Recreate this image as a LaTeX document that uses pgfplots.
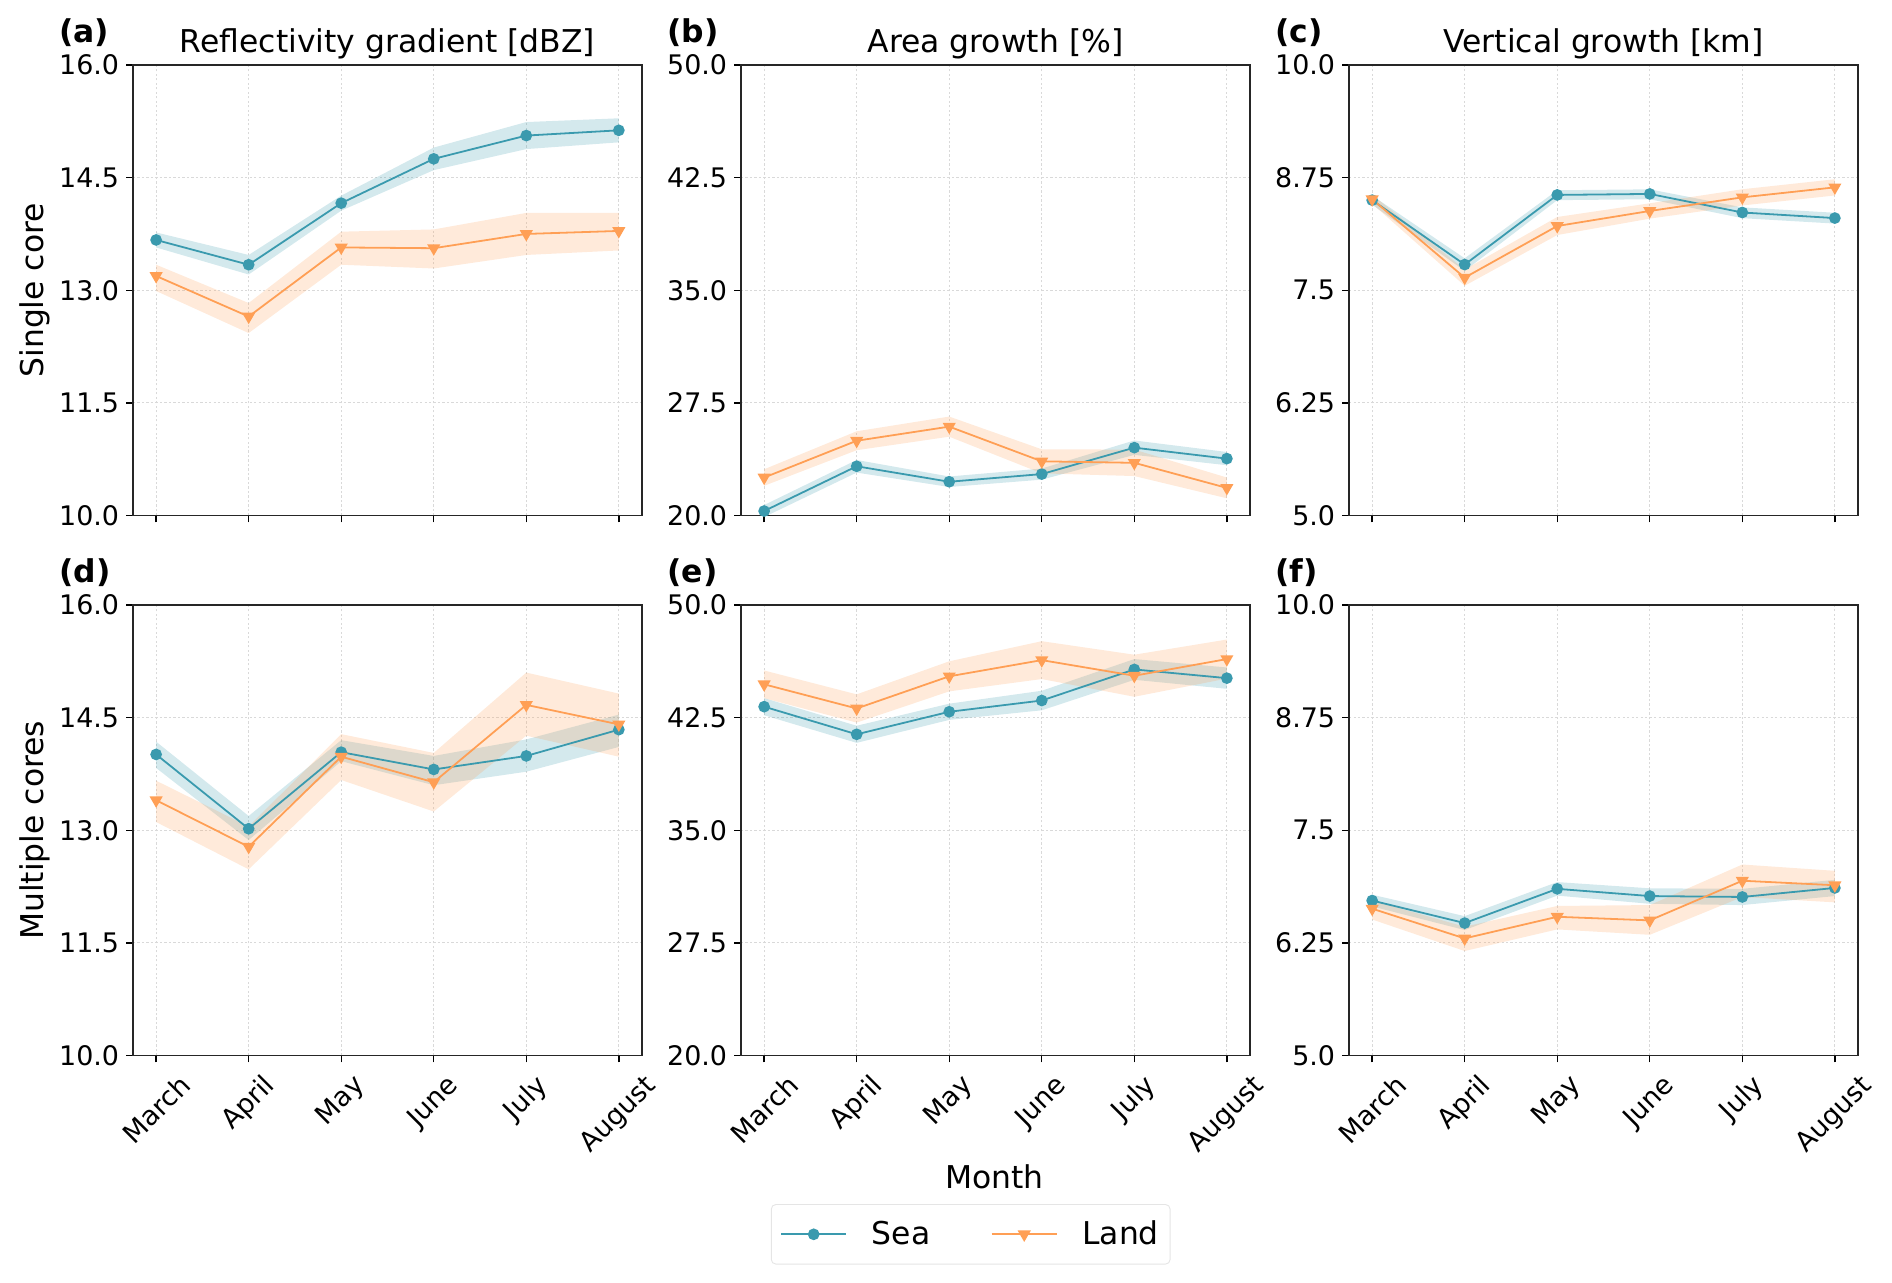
\documentclass[border=0pt]{standalone}
\usepackage{fontspec}
\setmainfont{DejaVu Sans}
\usepackage{graphicx}
\usepackage{pgfplots}
\usepgfplotslibrary{fillbetween}
\pgfplotsset{compat=1.18}
\usepackage{pgfplotstable}

\definecolor{sea}{RGB}{58,154,174}
\definecolor{land}{RGB}{255,159,85}
\newcommand\labelsize{\fontsize{14}{16}\selectfont}
\newcommand\ticksize{\fontsize{12}{14}\selectfont}

% columns: x, sea mean, sea low, sea high, land mean, land low, land high
\pgfplotstableread{
x sm slo shi lm llo lhi
0 13.67 13.57 13.77 13.19 12.99 13.34
1 13.34 13.21 13.47 12.65 12.43 12.83
2 14.16 14.06 14.26 13.57 13.34 13.78
3 14.75 14.60 14.90 13.56 13.29 13.81
4 15.06 14.88 15.24 13.75 13.47 14.03
5 15.13 14.97 15.29 13.79 13.53 14.03
}\tabA
\pgfplotstableread{
x sm slo shi lm llo lhi
0 20.30 19.90 20.70 22.53 21.98 23.08
1 23.28 22.86 23.70 24.98 24.35 25.61
2 22.25 21.90 22.60 25.92 25.25 26.59
3 22.76 22.39 23.13 23.61 22.81 24.41
4 24.52 24.04 25.00 23.51 22.63 24.39
5 23.79 23.35 24.23 21.84 21.15 22.53
}\tabB
\pgfplotstableread{
x sm slo shi lm llo lhi
0 8.500 8.450 8.550 8.510 8.460 8.560
1 7.785 7.715 7.855 7.640 7.550 7.730
2 8.558 8.500 8.610 8.213 8.113 8.313
3 8.569 8.510 8.620 8.380 8.295 8.465
4 8.363 8.300 8.420 8.531 8.441 8.621
5 8.301 8.240 8.360 8.642 8.552 8.732
}\tabC
\pgfplotstableread{
x sm slo shi lm llo lhi
0 14.01 13.83 14.18 13.40 13.11 13.66
1 13.02 12.87 13.19 12.78 12.48 13.05
2 14.04 13.92 14.20 13.98 13.67 14.28
3 13.81 13.60 13.99 13.64 13.25 14.03
4 13.99 13.78 14.21 14.67 14.26 15.10
5 14.34 14.11 14.54 14.41 13.98 14.82
}\tabD
\pgfplotstableread{
x sm slo shi lm llo lhi
0 43.23 42.66 43.80 44.72 43.80 45.64
1 41.39 40.82 41.96 43.11 42.17 44.05
2 42.89 42.35 43.43 45.25 44.25 46.25
3 43.64 42.99 44.29 46.33 45.07 47.59
4 45.71 45.02 46.40 45.29 43.89 46.69
5 45.13 44.42 45.84 46.40 45.10 47.70
}\tabE
\pgfplotstableread{
x sm slo shi lm llo lhi
0 6.720 6.655 6.785 6.630 6.510 6.720
1 6.470 6.393 6.547 6.300 6.160 6.430
2 6.850 6.775 6.925 6.540 6.400 6.660
3 6.770 6.684 6.856 6.500 6.340 6.670
4 6.760 6.670 6.850 6.940 6.760 7.120
5 6.860 6.770 6.950 6.890 6.700 7.050
}\tabF

\pgfplotsset{
  panel/.style={
    scale only axis, width=226.96pt, height=200.9pt,
    xmin=-0.25, xmax=5.25, xtick={0,...,5},
    tick align=outside, tick pos=left,
    major tick length=3pt,
    tick style={black, line width=0.6pt},
    grid=major,
    grid style={gray!30, line width=0.4pt, dash pattern=on 1pt off 1pt},
    axis line style={line width=0.8pt, black!85},
    ticklabel style={font=\ticksize},
    yticklabel style={anchor=east, inner sep=0pt, xshift=-3pt},
    xticklabel style={anchor=north, inner sep=0pt, yshift=-4.5pt},
  },
  toprow/.style={xticklabel={\mbox{}}},
  botrow/.style={xticklabels={\rotatebox{45}{March},\rotatebox{45}{April},\rotatebox{45}{May},\rotatebox{45}{June},\rotatebox{45}{July},\rotatebox{45}{August}}},
  refl/.style={ymin=10, ymax=16, ytick={10,11.5,13,14.5,16}, yticklabels={10.0,11.5,13.0,14.5,16.0}},
  area/.style={ymin=20, ymax=50, ytick={20,27.5,35,42.5,50}, yticklabels={20.0,27.5,35.0,42.5,50.0}},
  vert/.style={ymin=5, ymax=10, ytick={5,6.25,7.5,8.75,10}, yticklabels={5.0,6.25,7.5,8.75,10.0}},
  sealine/.style={sea, line width=0.8pt, mark=*, mark size=2.2pt, mark options={solid, fill=sea, draw=sea}},
  landline/.style={land, line width=0.8pt, mark=triangle*, mark size=2.6pt, mark options={solid, rotate=180, fill=land, draw=land}},
}

\newcommand{\series}[1]{%
  \addplot[name path=shi, draw=none, forget plot] table[x=x, y=shi]{#1};
  \addplot[name path=slo, draw=none, forget plot] table[x=x, y=slo]{#1};
  \addplot[fill=sea, fill opacity=0.22, draw=none, forget plot] fill between[of=shi and slo];
  \addplot[sealine] table[x=x, y=sm]{#1};
  \addplot[name path=lhi, draw=none, forget plot] table[x=x, y=lhi]{#1};
  \addplot[name path=llo, draw=none, forget plot] table[x=x, y=llo]{#1};
  \addplot[fill=land, fill opacity=0.22, draw=none, forget plot] fill between[of=lhi and llo];
  \addplot[landline] table[x=x, y=lm]{#1};
}

\begin{document}
\begin{tikzpicture}
\path (0,0) rectangle (843.64pt,-572.09pt);

\begin{axis}[panel, toprow, refl, name=p1, at={(59.30pt,-28.98pt)}, anchor=north west]
\series{\tabA}
\end{axis}
\begin{axis}[panel, toprow, area, name=p2, at={(330.41pt,-28.98pt)}, anchor=north west]
\series{\tabB}
\end{axis}
\begin{axis}[panel, toprow, vert, name=p3, at={(601.52pt,-28.98pt)}, anchor=north west]
\series{\tabC}
\end{axis}
\begin{axis}[panel, botrow, refl, name=p4, at={(59.30pt,-269.77pt)}, anchor=north west]
\series{\tabD}
\end{axis}
\begin{axis}[panel, botrow, area, name=p5, at={(330.41pt,-269.77pt)}, anchor=north west,
  legend columns=2,
  legend image code/.code={\draw[mark repeat=2,mark phase=2] plot coordinates {(0pt,0pt) (14.5pt,0pt) (29pt,0pt)};},
  legend style={at={(0.4513,-0.3297)}, anchor=north, draw=gray!20, rounded corners=2pt,
    font=\labelsize, inner xsep=4pt, inner ysep=6.2pt,
    column sep=10pt, /tikz/every even column/.append style={column sep=26pt},
    nodes={inner sep=1pt}}]
\series{\tabE}
\addlegendentry{Sea}
\addlegendentry{Land}
\end{axis}
\begin{axis}[panel, botrow, vert, name=p6, at={(601.52pt,-269.77pt)}, anchor=north west]
\series{\tabF}
\end{axis}

\foreach \p/\t in {p1/Reflectivity gradient [dBZ], p2/Area growth [\%], p3/Vertical growth [km]} {
  \node[font=\labelsize, anchor=south, inner sep=0pt] at ([yshift=2.5pt]\p.north) {\t};
}
\foreach \p/\t in {p1/(a), p2/(b), p3/(c), p4/(d), p5/(e), p6/(f)} {
  \node[font=\labelsize\bfseries, anchor=base west, inner sep=0pt] at ([xshift=-33pt, yshift=10pt]\p.north west) {\t};
}
\node[font=\labelsize, rotate=90, anchor=base, inner sep=0pt] at ([xshift=-39.7pt]p1.west) {Single core};
\node[font=\labelsize, rotate=90, anchor=base, inner sep=0pt] at ([xshift=-39.7pt]p4.west) {Multiple cores};
\node[font=\labelsize, anchor=base, inner sep=0pt] at (443.4pt,-529.9pt) {Month};
\end{tikzpicture}
\end{document}
